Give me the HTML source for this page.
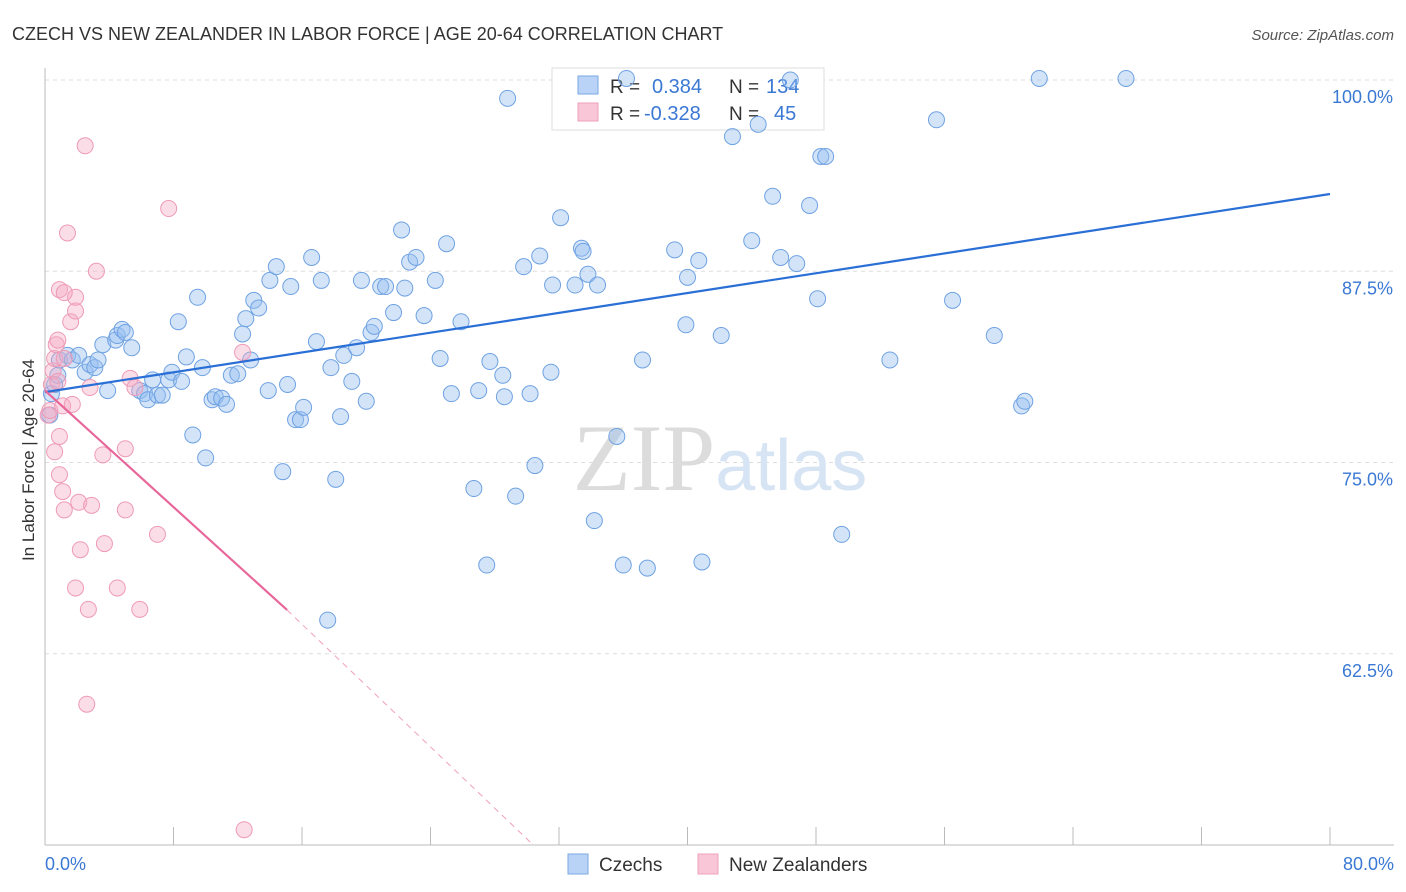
<!DOCTYPE html>
<html><head><meta charset="utf-8"><style>
body{margin:0;background:#fff;font-family:"Liberation Sans",sans-serif;}
svg{display:block}
</style></head><body>
<svg width="1406" height="892">
<text x="12" y="40" font-size="18" fill="#333">CZECH VS NEW ZEALANDER IN LABOR FORCE | AGE 20-64 CORRELATION CHART</text>
<text x="1394" y="40" font-size="15" fill="#555" text-anchor="end" font-style="italic">Source: ZipAtlas.com</text>
<g id="grid"></g>
<text x="720" y="490" font-size="95" fill="#e4e4e4" text-anchor="middle" font-family="Liberation Serif,serif"><tspan fill="#dcdcdc">ZIP</tspan><tspan fill="#d6e4f4" font-family="Liberation Sans,sans-serif" font-size="72">atlas</tspan></text>
<g>
<rect x="552" y="68" width="272" height="62" fill="#fff" stroke="#ddd"/>
<rect x="578" y="76" width="20" height="18" fill="#b8d3f5" stroke="#7aaae6"/>
<rect x="578" y="103" width="20" height="18" fill="#f8c6d6" stroke="#f0a0bb"/>
<text x="610" y="93" font-size="19" fill="#333">R =</text><text x="652" y="93" font-size="20" fill="#3a78d4">0.384</text>
<text x="729" y="93" font-size="19" fill="#333">N =</text><text x="766" y="93" font-size="20" fill="#3a78d4">134</text>
<text x="610" y="120" font-size="19" fill="#333">R =</text><text x="644" y="120" font-size="20" fill="#3a78d4">-0.328</text>
<text x="729" y="120" font-size="19" fill="#333">N =</text><text x="774" y="120" font-size="20" fill="#3a78d4">45</text>
</g>
<g id="pts"></g>
<g id="lines"></g>
<text x="34" y="460" font-size="17" fill="#333" text-anchor="middle" transform="rotate(-90 34 460)">In Labor Force | Age 20-64</text>
<text x="45" y="870" font-size="18" fill="#3a78d4">0.0%</text>
<text x="1394" y="870" font-size="18" fill="#3a78d4" text-anchor="end">80.0%</text>
<g>
<rect x="568" y="854" width="20" height="20" fill="#b8d3f5" stroke="#7aaae6"/>
<text x="599" y="871" font-size="19" fill="#333">Czechs</text>
<rect x="698" y="854" width="20" height="20" fill="#f8c6d6" stroke="#f0a0bb"/>
<text x="729" y="871" font-size="19" fill="#333">New Zealanders</text>
</g>
</svg>
<script>
const yTicks=[100,87.5,75,62.5];
const yTickLabels=["100.0%","87.5%","75.0%","62.5%"];
const xTicks=[0,8,16,24,32,40,48,56,64,72,80];
const czX=[0.3,0.4,0.6,0.8,0.9,1.4,1.7,2.1,2.5,2.8,3.1,3.3,3.9,3.6,4.4,4.5,4.8,5.0,5.4,5.9,6.2,6.4,6.7,7.0,7.3,7.7,7.9,8.3,8.5,8.8,9.2,9.5,9.8,10.0,10.4,10.6,11.0,11.3,11.6,12.0,12.3,12.5,12.8,13.0,13.3,13.9,14.0,14.4,14.8,15.1,15.3,15.6,15.9,16.1,16.6,16.9,17.2,17.6,17.8,18.1,18.4,18.6,19.1,19.4,19.7,20.0,20.3,20.5,20.9,21.2,21.7,22.2,22.4,22.7,23.1,23.6,24.3,24.6,25.0,25.3,25.9,26.7,27.0,27.5,27.7,28.5,28.6,28.8,29.3,29.8,30.2,30.5,30.8,31.5,31.6,32.1,33.0,33.4,33.5,33.8,34.2,34.4,35.6,36.0,36.2,37.2,37.5,39.2,39.9,40.0,40.7,40.9,42.1,42.8,44.0,44.4,45.3,45.8,46.4,46.8,47.6,48.1,48.3,48.6,49.6,52.6,55.5,56.5,59.1,60.8,61.0,61.9,67.3];
const czY=[78.1,79.5,80.1,80.7,81.7,82.0,81.7,82.0,80.9,81.4,81.2,81.7,79.7,82.7,83.0,83.3,83.7,83.5,82.5,79.7,79.5,79.1,80.4,79.4,79.4,80.4,80.9,84.2,80.3,81.9,76.8,85.8,81.2,75.3,79.1,79.3,79.2,78.8,80.7,80.8,83.4,84.4,81.7,85.6,85.1,79.7,86.9,87.8,74.4,80.1,86.5,77.8,77.8,78.6,88.4,82.9,86.9,64.7,81.2,73.9,78.0,82.0,80.3,82.5,86.9,79.0,83.5,83.9,86.5,86.5,84.8,90.2,86.4,88.1,88.4,84.6,86.9,81.8,89.3,79.5,84.2,73.3,79.7,68.3,81.6,80.7,79.3,98.8,72.8,87.8,79.5,74.8,88.5,80.9,86.6,91.0,86.6,89.0,88.8,87.3,71.2,86.6,76.7,68.3,100.1,81.7,68.1,88.9,84.0,87.1,88.2,68.5,83.3,96.3,89.5,97.1,92.4,88.4,100,88.0,91.8,85.7,95.0,95.0,70.3,81.7,97.4,85.6,83.3,78.7,79.0,100.1,100.1];
const nzX=[0.2,0.3,0.4,0.5,0.6,0.7,0.8,0.9,1.1,0.9,1.1,1.2,1.4,1.6,1.7,1.9,1.9,0.9,1.2,2.2,2.1,1.9,2.5,2.7,2.8,2.9,3.2,3.6,3.7,4.5,5.0,5.0,5.3,5.6,5.9,7.0,7.7,12.3,12.4,2.6,0.6,1.2,0.8];
const nzY=[78.1,78.4,80.1,81.0,81.8,82.7,83.0,76.7,78.7,74.2,73.1,71.9,90.0,84.2,78.8,84.9,85.8,86.3,86.1,69.3,72.4,66.8,95.7,65.4,79.9,72.2,87.5,75.5,69.7,66.8,71.9,75.9,80.5,79.9,65.4,70.3,91.6,82.2,51.0,59.2,75.7,81.8,80.3];
const czLine=[[0,79.6],[80,92.55]];
const nzLineSolid=[[0,79.7],[15.07,65.36]];
const nzLineDash=[[15.07,65.36],[30.4,50]];
const X0=45,X1=1330,Y0=845,Y1=80;
const xs=v=>X0+(v-0)/80*(X1-X0);
const ys=v=>Y0-(v-50)/50*(Y0-Y1);
const NS="http://www.w3.org/2000/svg";
function mk(t,a,p){const e=document.createElementNS(NS,t);for(const k in a)e.setAttribute(k,a[k]);p.appendChild(e);return e;}
const g=document.getElementById('grid');
yTicks.forEach((t,i)=>{
 const l=mk('line',{x1:X0,x2:1394,y1:ys(t),y2:ys(t),stroke:'#ddd','stroke-dasharray':'4 4'},g);
 
 
 const tx=mk('text',{x:1393,y:ys(t)+23,'font-size':18,fill:'#3a78d4','text-anchor':'end'},g);
 tx.textContent=yTickLabels[i];
 
 
});
const ax=mk('line',{x1:X0,x2:X0,y1:68,y2:Y0,stroke:'#bbb'},g);


const bx=mk('line',{x1:X0,x2:1394,y1:Y0,y2:Y0,stroke:'#bbb'},g);


xTicks.forEach(t=>{
 const l=mk('line',{x1:xs(t),x2:xs(t),y1:Y0,y2:Y0-18,stroke:'#bbb'},g);
 
 
});
const p=document.getElementById('pts');
czX.forEach((v,i)=>{
 const c=mk('circle',{cx:xs(v),cy:ys(czY[i]),r:8,fill:'rgba(150,190,240,0.42)',stroke:'#6fa2e2','stroke-width':1},p);
 
 
});
nzX.forEach((v,i)=>{
 const c=mk('circle',{cx:xs(v),cy:ys(nzY[i]),r:8,fill:'rgba(245,170,195,0.4)',stroke:'#ee9ab6','stroke-width':1},p);
 
 
});
const L=document.getElementById('lines');
const a=mk('line',{x1:xs(czLine[0][0]),y1:ys(czLine[0][1]),x2:xs(czLine[1][0]),y2:ys(czLine[1][1]),stroke:'#2a6fd6','stroke-width':2.2},L);


const b=mk('line',{x1:xs(nzLineSolid[0][0]),y1:ys(nzLineSolid[0][1]),x2:xs(nzLineSolid[1][0]),y2:ys(nzLineSolid[1][1]),stroke:'#e8679a','stroke-width':2.2},L);


const d=mk('line',{x1:xs(nzLineDash[0][0]),y1:ys(nzLineDash[0][1]),x2:xs(nzLineDash[1][0]),y2:ys(nzLineDash[1][1]),stroke:'#f0a0bb','stroke-width':1,'stroke-dasharray':'6 5'},L);


</script>
</body></html>
